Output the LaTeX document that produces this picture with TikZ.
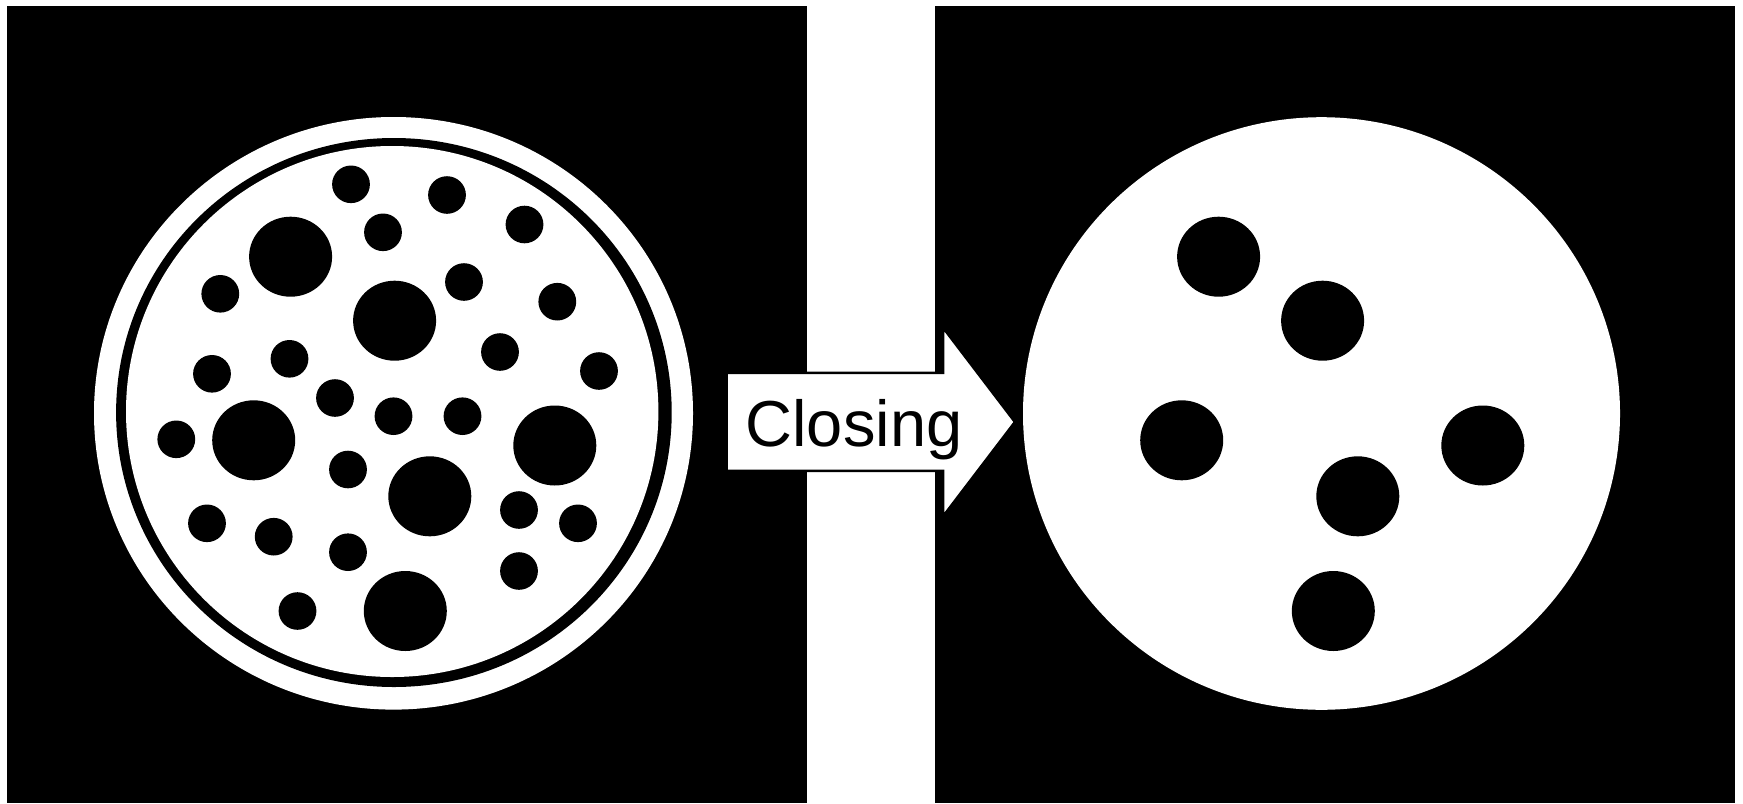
\documentclass[tikz,border=0pt]{standalone}
\usepackage{fontspec}
\setmainfont{Liberation Sans}
\begin{document}
\begin{tikzpicture}[x=0.5pt,y=-0.5pt,
  blk/.style={fill=black},
  wht/.style={fill=white},
  sh/.style={fill=black,x radius=18.9,y radius=18.8},
  bh/.style={fill=black,x radius=41.5,y radius=40},
  arrowshape/.style={fill=white,draw=black,line width=1.3pt,line join=miter},
  lbl/.style={font=\fontsize{32.5}{39}\selectfont,inner sep=0pt,anchor=base west,text=black}]
\useasboundingbox (0,0) rectangle (1743,803);
\fill[white] (0,0) rectangle (1743,803);
% left panel
\fill[blk] (7,6) rectangle (807,803);
\fill[wht] (393.5,413.3) ellipse [x radius=299.5,y radius=296.3];
\fill[blk] (393.9,412.5) ellipse [x radius=277.8,y radius=274.5];
\fill[wht] (392.2,411.5) ellipse [x radius=266.2,y radius=265.5];
% big holes (left)
\foreach \p in {(290.6,256.7),(394.6,320.7),(253.7,440.3),(554.8,445.5),(429.8,496.3),(405.3,611)}
  \fill[bh] \p ellipse [];
% small holes (left)
\foreach \p in {(351,184.3),(447,195),(524.5,224.5),(383,232.3),(220.3,293.8),(464,282),
  (557.3,301.7),(289.5,358.8),(212,373.8),(500,352),(599,371),(335,398),(393.5,416.2),
  (462.5,416.2),(176.3,439.3),(348,469.5),(519,510),(578,523.3),(207,523.3),(273.7,536.7),
  (348,552.2),(519,571),(297.5,611)}
  \fill[sh] \p ellipse [];
% right panel
\fill[blk] (935,6) rectangle (1735,803);
\fill[wht] (1321.5,413.5) ellipse [x radius=298.5,y radius=296.3];
\foreach \p in {(1218.6,256.7),(1322.6,320.7),(1181.7,440.3),(1482.8,445.5),(1357.8,496.3),(1333.3,611)}
  \fill[bh] \p ellipse [];
% arrow
\draw[arrowshape] (726.5,372.8) -- (943,372.8) -- (943,327.5) -- (1015,422) -- (943,516.5) -- (943,470.8) -- (726.5,470.8) -- cycle;
\node[lbl] (closing) at (745.2,446) {Closing};
\end{tikzpicture}
\end{document}
